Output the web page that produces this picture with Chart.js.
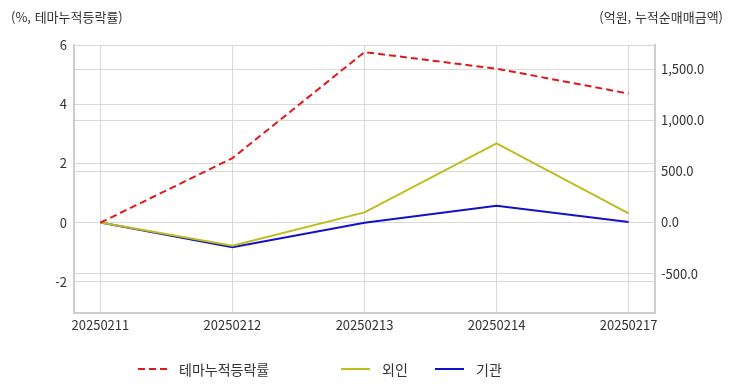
<!DOCTYPE html>
<html lang="ko">
<head>
<meta charset="utf-8">
<title>테마누적등락률 / 누적순매매금액</title>
<script src="https://cdn.jsdelivr.net/npm/chart.js@4/dist/chart.umd.min.js"></script>
<style>
  html, body { margin: 0; padding: 0; background: #fff; }
  body { font-family: "Noto Sans CJK KR", "Noto Sans", sans-serif; color: #333; }
  #wrap { position: relative; width: 732px; height: 392px; }
  #chart { position: absolute; left: 0; top: 0; }
  .axis-title { position: absolute; top: 7px; font-size: 13px; color: #333; white-space: nowrap; }
  #title-left { left: 11px; }
  #title-right { right: 9px; }
  .legend-item { position: absolute; top: 360px; height: 18px; display: flex; align-items: center; font-size: 14px; color: #333; white-space: nowrap; }
  .legend-item svg { margin-right: 12px; }
</style>
</head>
<body>
<div id="wrap">
  <canvas id="chart" width="732" height="392"></canvas>
  <div class="axis-title" id="title-left">(%, 테마누적등락률)</div>
  <div class="axis-title" id="title-right">(억원, 누적순매매금액)</div>
  <div id="legend"></div>
</div>
<script>
// data
const dates = ["20250211", "20250212", "20250213", "20250214", "20250217"];
const themeReturn = [0, 2.18, 5.76, 5.2, 4.36];      // %, left axis
const foreignNet = [0, -228, 99, 775, 89];           // 억원, right axis
const institutionNet = [0, -243, -2, 163, 5];        // 억원, right axis
const leftTicks = [-2, 0, 2, 4, 6];
const rightTicks = [-500, 0, 500, 1000, 1500];

const gridColor = "#d9d9d9";
const borderColor = "#cfcfcf";
const tickFont = { family: "'Noto Sans CJK KR', 'Noto Sans', sans-serif", size: 13 };

function toPoints(values) {
  return values.map((v, i) => ({ x: i, y: v }));
}

const series = [
  { label: "테마누적등락률", data: themeReturn, color: "#e3161b", dash: [7, 4], axis: "y", legendX: 138 },
  { label: "외인", data: foreignNet, color: "#bfbd1e", dash: [], axis: "y1", legendX: 341 },
  { label: "기관", data: institutionNet, color: "#1212c8", dash: [], axis: "y1", legendX: 435 },
];

const ctx = document.getElementById("chart").getContext("2d");

const chart = new Chart(ctx, {
  type: "line",
  data: {
    datasets: series.map((s) => ({
      label: s.label,
      data: toPoints(s.data),
      borderColor: s.color,
      backgroundColor: s.color,
      borderDash: s.dash,
      borderWidth: 2,
      pointRadius: 0,
      tension: 0,
      yAxisID: s.axis,
    })),
  },
  options: {
    responsive: false,
    animation: false,
    layout: { padding: { top: 45, bottom: 52, left: 0, right: 0 } },
    plugins: {
      legend: { display: false },
      tooltip: { enabled: false },
    },
    scales: {
      x: {
        type: "linear",
        min: -0.2,
        max: 4.2,
        afterBuildTicks: (scale) => {
          scale.ticks = dates.map((d, i) => ({ value: i }));
        },
        afterFit: (scale) => {
          scale.height = 27;
        },
        ticks: {
          autoSkip: false,
          maxRotation: 0,
          padding: 4,
          color: "#333",
          font: tickFont,
          callback: (value) => dates[value],
        },
        grid: { color: gridColor, drawTicks: false },
        border: { color: borderColor, width: 2 },
      },
      y: {
        position: "left",
        min: -3.05,
        max: 6,
        afterBuildTicks: (scale) => {
          scale.ticks = leftTicks.map((v) => ({ value: v }));
        },
        afterFit: (scale) => {
          scale.width = 74;
        },
        ticks: { padding: 7, color: "#333", font: tickFont },
        grid: { color: gridColor, drawTicks: false },
        border: { color: borderColor, width: 2 },
      },
      y1: {
        position: "right",
        min: -886,
        max: 1738,
        afterBuildTicks: (scale) => {
          scale.ticks = rightTicks.map((v) => ({ value: v }));
        },
        afterFit: (scale) => {
          scale.width = 77;
        },
        ticks: {
          padding: 6,
          color: "#333",
          font: tickFont,
          callback: (value) =>
            value.toLocaleString("en-US", { minimumFractionDigits: 1, maximumFractionDigits: 1 }),
        },
        grid: { color: gridColor, drawTicks: false },
        border: { color: borderColor, width: 2 },
      },
    },
  },
});

// custom legend
const legend = document.getElementById("legend");
series.forEach((s) => {
  const item = document.createElement("div");
  item.className = "legend-item";
  item.style.left = s.legendX + "px";
  const dash = s.dash.length ? s.dash.join(" ") : "none";
  item.innerHTML = `
    <svg width="29" height="4"><line x1="0" y1="2" x2="29" y2="2" stroke="${s.color}" stroke-width="2" stroke-dasharray="${dash}"/></svg>
    <span>${s.label}</span>
  `;
  legend.appendChild(item);
});
</script>
</body>
</html>
